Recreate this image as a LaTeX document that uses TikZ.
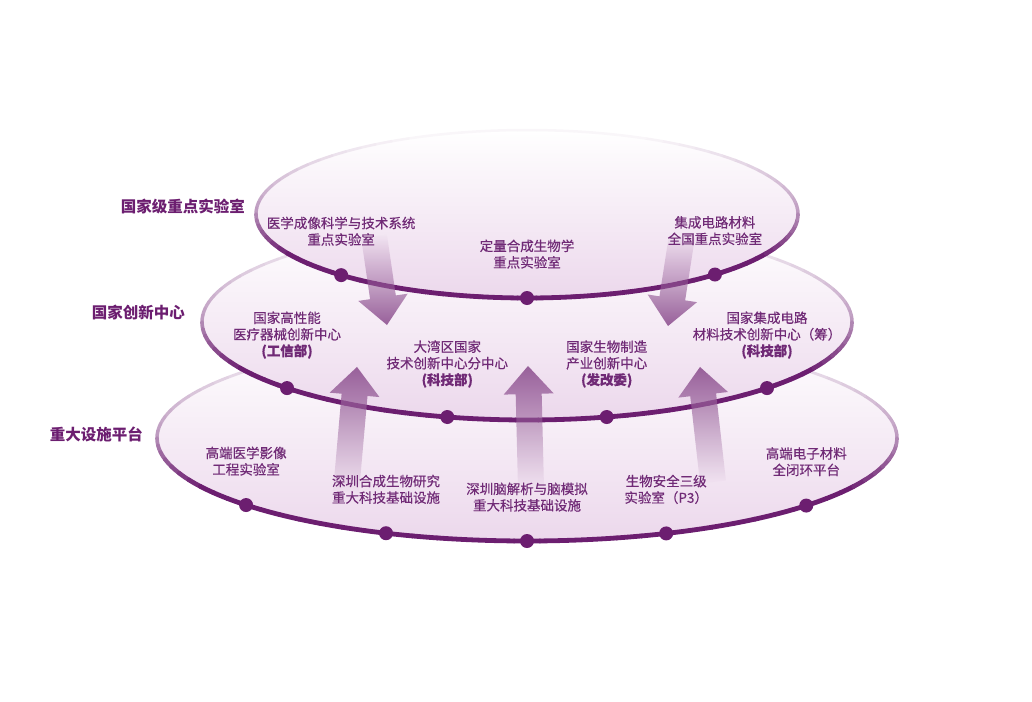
\documentclass[tikz,border=0pt]{standalone}
\usepackage{fontspec}
\setmainfont{Noto Sans CJK SC}
\newfontfamily\lblfont{Noto Sans CJK SC}[FakeBold=0.4]
\usetikzlibrary{positioning,calc,fadings}

\definecolor{plumdark}{RGB}{108,30,112}
\definecolor{plumtext}{RGB}{112,42,118}
\definecolor{plumfill}{RGB}{236,216,236}
\definecolor{plumarrow}{RGB}{152,96,154}

\tikzfading[name=fadeup, top color=transparent!0, middle color=transparent!25, bottom color=transparent!100]
\tikzfading[name=fadedown, top color=transparent!100, middle color=transparent!25, bottom color=transparent!0]

\begin{document}
\begin{tikzpicture}[
  x=1pt, y=1pt,
  dot/.style={circle,fill=plumdark,inner sep=0pt,minimum size=14pt},
  lbl/.style={align=center,inner sep=0pt,text=plumtext,font=\lblfont\fontsize{13.5}{16.5}\selectfont},
  tier/.style={anchor=east,inner sep=0pt,text=plumdark,font=\fontsize{15.5}{18}\selectfont\bfseries},
  blockarrow/.style={fill=plumarrow}
]
\useasboundingbox (0,0) rectangle (1032,-701);

% three tiers, drawn bottom first
\foreach \n/\cx/\cy/\rx/\ry in {base/527/438/370/103, mid/527/322/325/98, top/527/214/271/84}{
  \coordinate (\n) at (\cx,-\cy);
  \shade[top color=white, middle color=plumfill!22!white, bottom color=plumfill]
    (\n) ellipse[x radius=\rx pt, y radius=\ry pt];
  % rim: dark below, fading out towards the back
  \foreach \a in {0,4,...,356}{
    \pgfmathsetmacro\s{sin(\a+2)}
    \pgfmathsetmacro\p{ifthenelse(\s>0, max(4,46-46*\s), min(100,50-100*\s))}
    \pgfmathsetmacro\w{2.4+2.4*\p/100}
    \draw[line width=\w pt, line cap=round, color=plumdark!\p!white]
      ($(\n)+(\a:\rx pt and \ry pt)$) arc[start angle=\a, delta angle=4, x radius=\rx pt, y radius=\ry pt];
  }
}

% block arrows between tiers
\foreach \n/\tx/\ty/\px/\py/\fd in {dl/374/236/387/325/fadedown, dr/682/236/668/326/fadedown,
    ul/346/492/357/367/fadeup, um/531/488/528/366/fadeup, ur/713/482/700/367/fadeup}{
  \coordinate (\n-t) at (\tx,-\ty);
  \coordinate (\n-p) at (\px,-\py);
  \coordinate (\n-b) at ($(\n-p)!28pt!(\n-t)$);
  \fill[blockarrow, path fading=\fd]
    ($(\n-t)!13pt!90:(\n-p)$) -- ($(\n-b)!13pt!90:(\n-p)$) -- ($(\n-b)!25pt!90:(\n-p)$)
    -- (\n-p) -- ($(\n-b)!25pt!-90:(\n-p)$) -- ($(\n-b)!13pt!-90:(\n-p)$)
    -- ($(\n-t)!13pt!-90:(\n-p)$) -- cycle;
}

% tier titles
\node[tier] (ttop) at (245,-207) {国家级重点实验室};
\node[tier] (tmid) at (185,-313) {国家创新中心};
\node[tier] (tbase) at (143,-434) {重大设施平台};

% top tier
\node[dot] (top1) at ($(top)+(226.7:271pt and 84pt)$) {};
\node[dot] (top2) at ($(top)+(270:271pt and 84pt)$) {};
\node[dot] (top3) at ($(top)+(313.9:271pt and 84pt)$) {};
\node[lbl,above=22pt of top1] (top1l) {医学成像科学与技术系统\\重点实验室};
\node[lbl,above=22pt of top2] (top2l) {定量合成生物学\\重点实验室};
\node[lbl,above=22pt of top3] (top3l) {集成电路材料\\全国重点实验室};

% middle tier
\node[dot] (mid1) at ($(mid)+(222.4:325pt and 98pt)$) {};
\node[dot] (mid2) at ($(mid)+(255.8:325pt and 98pt)$) {};
\node[dot] (mid3) at ($(mid)+(284.2:325pt and 98pt)$) {};
\node[dot] (mid4) at ($(mid)+(317.6:325pt and 98pt)$) {};
\node[lbl,above=22pt of mid1] (mid1l) {国家高性能\\医疗器械创新中心\\\textbf{(工信部)}};
\node[lbl,above=22pt of mid2] (mid2l) {大湾区国家\\技术创新中心分中心\\\textbf{(科技部)}};
\node[lbl,above=22pt of mid3] (mid3l) {国家生物制造\\产业创新中心\\\textbf{(发改委)}};
\node[lbl,above=22pt of mid4] (mid4l) {国家集成电路\\材料技术创新中心（筹）\\\textbf{(科技部)}};

% base tier
\node[dot] (base1) at ($(base)+(220.6:370pt and 103pt)$) {};
\node[dot] (base2) at ($(base)+(247.6:370pt and 103pt)$) {};
\node[dot] (base3) at ($(base)+(270:370pt and 103pt)$) {};
\node[dot] (base4) at ($(base)+(292.1:370pt and 103pt)$) {};
\node[dot] (base5) at ($(base)+(319:370pt and 103pt)$) {};
\node[lbl,above=22pt of base1] (base1l) {高端医学影像\\工程实验室};
\node[lbl,above=22pt of base2] (base2l) {深圳合成生物研究\\重大科技基础设施};
\node[lbl,above=22pt of base3] (base3l) {深圳脑解析与脑模拟\\重大科技基础设施};
\node[lbl,above=22pt of base4] (base4l) {生物安全三级\\实验室（P3）};
\node[lbl,above=22pt of base5] (base5l) {高端电子材料\\全闭环平台};
\end{tikzpicture}
\end{document}
